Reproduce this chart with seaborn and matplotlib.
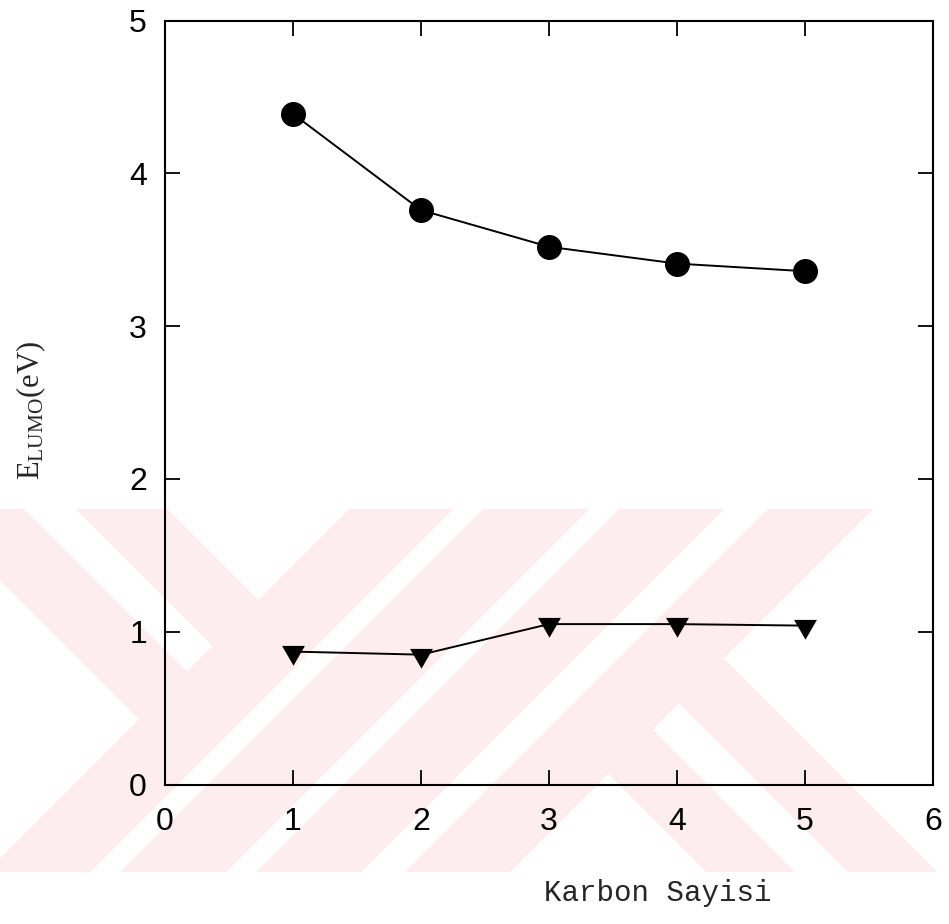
import numpy as np
import pandas as pd
import seaborn as sns
import matplotlib.pyplot as plt

# Karbon sayisina gore LUMO enerjileri
carbon = [1, 2, 3, 4, 5]
lumo_circle = [4.39, 3.76, 3.52, 3.41, 3.36]
lumo_triangle = [0.87, 0.85, 1.05, 1.05, 1.04]
x_ticks = [0, 1, 2, 3, 4, 5, 6]
y_ticks = [0, 1, 2, 3, 4, 5]

W, H = 949, 924


def watermark_mask():
    # diagonal pink bands of the background logo, in pixel space (y down)
    xx, yy = np.meshgrid(np.arange(W) + 0.5, np.arange(H) + 0.5)
    u, v = xx + yy, xx - yy
    left = (u < 859) & (((v >= -580) & (v <= -485)) | ((v >= -433) & (v <= -342)))
    mid = np.zeros_like(u, dtype=bool)
    for a, b in [(859, 962), (993, 1098), (1129, 1233), (1277, 1382)]:
        mid |= (u >= a) & (u <= b)
    right = (u > 1382) & (((v >= -165) & (v <= -77)) | ((v >= -24) & (v <= 65)))
    return (left | mid | right) & (yy >= 509) & (yy <= 872)


sns.set_style("ticks")
plt.rcParams['font.family'] = ['Liberation Sans', 'DejaVu Sans']
plt.rcParams['mathtext.fontset'] = 'custom'
plt.rcParams['mathtext.rm'] = 'Liberation Serif'
plt.rcParams['mathtext.it'] = 'Liberation Serif:italic'

fig = plt.figure(figsize=(W / 100, H / 100), dpi=100, facecolor='white')

bg = fig.add_axes([0, 0, 1, 1], zorder=0)
img = np.ones((H, W, 4))
img[..., :3] = np.array([253, 236, 240]) / 255
img[..., 3] = watermark_mask().astype(float)
bg.imshow(img, extent=(0, W, H, 0), interpolation='nearest')
bg.set_xlim(0, W)
bg.set_ylim(H, 0)
bg.axis('off')

ax = fig.add_axes([165 / W, 1 - 784.5 / H, 768 / W, 763.8 / H], zorder=1)
ax.set_facecolor('none')

tri = [(-1, 0.577), (1, 0.577), (0, -1.155)]
sns.lineplot(x=carbon, y=lumo_circle, ax=ax, color='black', lw=1.4,
             marker='o', markersize=18, markeredgewidth=0, markerfacecolor='black')
sns.lineplot(x=carbon, y=lumo_triangle, ax=ax, color='black', lw=1.4,
             marker=tri, markersize=19, markeredgewidth=0, markerfacecolor='black')

ax.set_xlim(0, 6)
ax.set_ylim(0, 5)
ax.set_xticks(x_ticks)
ax.set_yticks(y_ticks)
ax.tick_params(direction='in', length=11, width=1.3, top=True, right=True,
               labelsize=23, colors='black')
ax.tick_params(axis='x', pad=16)
ax.tick_params(axis='y', pad=13)
for s in ax.spines.values():
    s.set_linewidth(1.5)
    s.set_color('black')

ax.set_xlabel("Karbon Sayisi", family=['Liberation Mono', 'DejaVu Sans Mono'], fontsize=21)
ax.xaxis.set_label_coords(0.641, -0.124)
ax.set_ylabel(r'$\mathrm{E}_{\mathrm{LUMO}}\mathrm{(eV)}$', fontsize=22)
ax.yaxis.set_label_coords(-0.152, 0.49)

fig.savefig("out.png", dpi=100, facecolor='white')
